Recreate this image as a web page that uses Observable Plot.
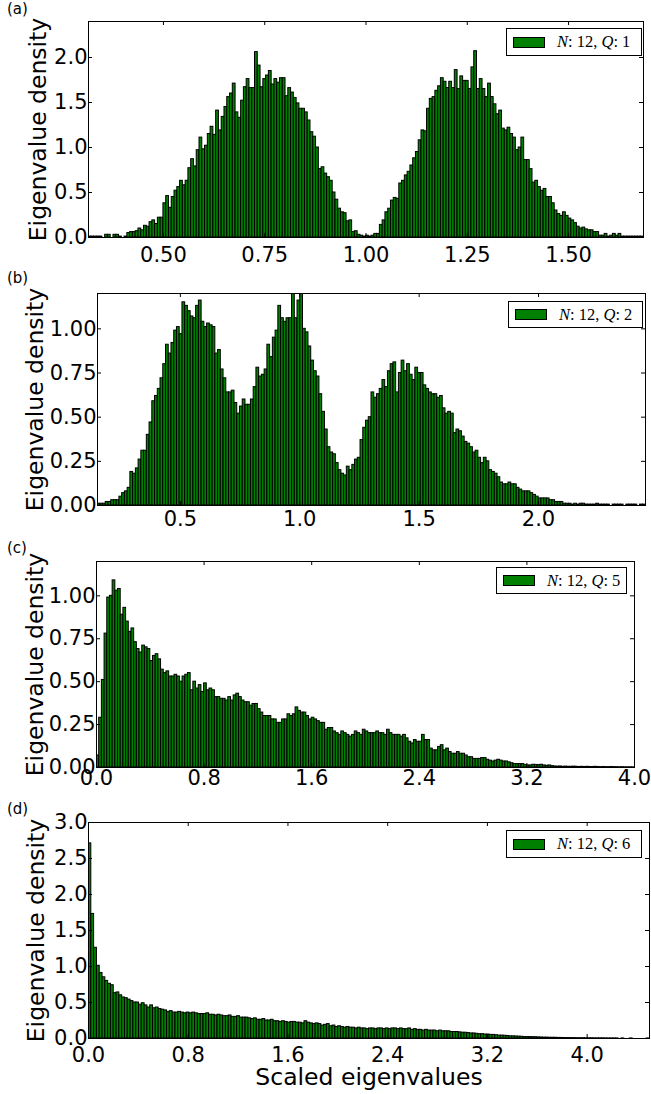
<!DOCTYPE html>
<html>
<head>
<meta charset="utf-8">
<script src="https://cdn.jsdelivr.net/npm/d3@7"></script>
<script src="https://cdn.jsdelivr.net/npm/@observablehq/plot@0.6"></script>
<style>
html,body{margin:0;padding:0;background:#fff;}
#fig{position:relative;width:651px;height:1094px;font-family:"DejaVu Sans",sans-serif;color:#000;}
.panel{position:absolute;left:0;width:651px;}
.panel svg{display:block;}
.plabel{position:absolute;left:7px;font-size:15px;line-height:15px;font-family:"DejaVu Sans",sans-serif;}
.legend{position:absolute;background:#fff;border:1px solid #000;box-sizing:border-box;font-family:"Liberation Serif","Times New Roman",serif;font-size:16.5px;display:flex;align-items:center;white-space:nowrap;}
.legend .patch{display:inline-block;background:#008000;border:1px solid #000;box-sizing:border-box;width:32px;height:11px;margin-left:6px;margin-right:12px;}
</style>
</head>
<body>
<div id="fig"></div>
<script>
// ---------- DATA ----------
const xLabel = "Scaled eigenvalues";
const yLabel = "Eigenvalue density";
const nValue = 12;
const qValues = [1, 2, 5, 6];

// (a) N=12, Q=1 : 200 bins
const startA = 0.315, widthA = 0.00685;
const densityA = [
 0.01,0.01,0.01,0.01,0.01,0.00,0.03,0.03,0.00,0.03,
 0.03,0.01,0.00,0.01,0.05,0.06,0.06,0.07,0.10,0.08,
 0.13,0.12,0.17,0.19,0.15,0.22,0.22,0.38,0.46,0.33,
 0.45,0.52,0.56,0.63,0.58,0.63,0.77,0.87,0.79,0.97,
 1.11,0.98,1.02,1.15,1.23,1.14,1.41,1.19,1.34,1.45,
 1.56,1.60,1.71,1.39,1.33,1.52,1.67,1.76,1.66,1.66,
 2.06,1.91,1.67,1.76,1.80,1.85,1.70,1.76,1.72,1.77,
 1.77,1.57,1.66,1.61,1.55,1.49,1.43,1.43,1.39,1.30,
 1.17,1.12,1.00,0.76,0.78,0.71,0.67,0.63,0.50,0.42,
 0.32,0.28,0.27,0.18,0.19,0.06,0.07,0.03,0.02,0.01,
 0.02,0.01,0.02,0.04,0.04,0.14,0.19,0.28,0.32,0.41,
 0.44,0.43,0.60,0.63,0.69,0.73,0.80,0.88,0.95,1.08,
 1.19,1.18,1.43,1.54,1.56,1.63,1.68,1.77,1.73,1.66,
 1.73,1.66,1.86,1.65,1.79,1.74,1.74,1.65,1.89,2.07,
 1.65,1.76,1.65,1.56,1.71,1.56,1.48,1.37,1.41,1.21,
 1.19,1.22,1.15,1.11,0.97,1.00,1.11,0.86,0.86,0.76,
 0.61,0.63,0.56,0.52,0.54,0.45,0.45,0.38,0.30,0.26,
 0.24,0.28,0.24,0.21,0.19,0.16,0.12,0.10,0.11,0.09,
 0.08,0.08,0.06,0.06,0.02,0.02,0.04,0.01,0.02,0.04,
 0.02,0.04,0.01,0.01,0.01,0.01,0.01,0.01,0.01,0.01
];

// (b) N=12, Q=2
const startB = 0.153, widthB = 0.011475;
const densityB = [
 0.01,0.01,0.01,0.02,0.02,0.03,0.03,0.03,0.05,0.07,
 0.08,0.10,0.19,0.18,0.21,0.26,0.31,0.31,0.40,0.47,
 0.59,0.62,0.66,0.72,0.80,0.91,0.86,0.92,0.99,1.01,
 0.97,1.15,1.13,1.10,1.07,1.06,1.13,1.16,1.04,1.01,
 1.03,1.02,1.01,0.86,0.88,0.77,0.72,0.64,0.64,0.65,
 0.58,0.52,0.56,0.60,0.57,0.57,0.60,0.67,0.78,0.73,
 0.74,0.77,0.91,0.84,0.95,0.99,1.13,1.06,1.04,1.06,
 1.06,1.21,1.06,1.16,1.21,1.00,0.98,0.90,0.82,0.76,
 0.73,0.63,0.53,0.43,0.33,0.30,0.29,0.24,0.20,0.18,
 0.17,0.22,0.20,0.23,0.26,0.27,0.37,0.44,0.48,0.50,
 0.64,0.61,0.63,0.66,0.71,0.67,0.76,0.80,0.81,0.64,
 0.75,0.82,0.76,0.80,0.74,0.71,0.78,0.75,0.75,0.68,
 0.66,0.64,0.63,0.63,0.61,0.62,0.55,0.52,0.53,0.52,
 0.41,0.43,0.42,0.39,0.36,0.35,0.33,0.30,0.31,0.27,
 0.24,0.27,0.25,0.20,0.19,0.18,0.16,0.13,0.12,0.12,
 0.13,0.12,0.12,0.10,0.09,0.08,0.08,0.08,0.07,0.06,
 0.05,0.04,0.04,0.04,0.04,0.03,0.03,0.02,0.02,0.02,
 0.01,0.01,0.01,0.005,0.01,0.005,0.01,0.01,0.005,0.005,
 0.005,0.005,0.01,0.005,0.005,0.005,0.005,0.0,0.005,0.005,
 0.005,0.005,0.0,0.005,0.005,0.005,0.005,0.0,0.005,0.005
];

// (c) N=12, Q=5
const startC = 0, widthC = 0.02;
const densityC = [
 0.07,0.29,0.51,0.78,0.99,1.00,1.09,1.03,1.04,0.89,
 0.93,0.85,0.79,0.81,0.73,0.69,0.67,0.71,0.70,0.69,
 0.62,0.65,0.66,0.63,0.57,0.55,0.56,0.53,0.53,0.54,
 0.53,0.50,0.53,0.54,0.55,0.45,0.50,0.46,0.48,0.44,
 0.49,0.45,0.46,0.45,0.41,0.41,0.40,0.40,0.39,0.41,
 0.39,0.42,0.43,0.41,0.39,0.38,0.38,0.36,0.37,0.37,
 0.34,0.32,0.30,0.30,0.30,0.28,0.28,0.26,0.26,0.28,
 0.28,0.31,0.30,0.31,0.35,0.33,0.32,0.32,0.30,0.28,
 0.29,0.28,0.27,0.26,0.26,0.22,0.23,0.23,0.21,0.20,
 0.19,0.21,0.20,0.19,0.18,0.19,0.21,0.20,0.19,0.22,
 0.21,0.20,0.20,0.20,0.21,0.20,0.20,0.19,0.22,0.20,
 0.19,0.19,0.19,0.18,0.19,0.17,0.15,0.14,0.16,0.15,
 0.15,0.19,0.16,0.16,0.11,0.10,0.10,0.12,0.13,0.10,
 0.11,0.09,0.08,0.08,0.09,0.08,0.08,0.07,0.06,0.06,
 0.05,0.05,0.05,0.055,0.055,0.045,0.04,0.035,0.04,0.045,
 0.04,0.035,0.035,0.03,0.025,0.02,0.02,0.02,0.02,0.015,
 0.012,0.012,0.016,0.015,0.014,0.016,0.012,0.010,0.012,0.008,
 0.006,0.005,0.006,0.004,0.005,0.004,0.004,0.005,0.004,0.003,
 0.004,0.003,0.004,0.003,0.003,0.004,0.003,0.002,0.003,0.002,
 0.002,0.003,0.002,0.002,0.001,0.002,0.001,0.001,0.001,0.001
];

// (d) N=12, Q=6
const startD = 0, widthD = 0.0225;
const densityD = [
 2.71,1.73,1.26,1.01,0.91,0.85,0.80,0.76,0.74,0.63,
 0.64,0.60,0.57,0.56,0.54,0.52,0.50,0.50,0.47,0.49,
 0.46,0.43,0.46,0.42,0.43,0.41,0.40,0.39,0.37,0.38,
 0.36,0.36,0.37,0.36,0.35,0.36,0.35,0.36,0.35,0.34,
 0.34,0.34,0.35,0.33,0.33,0.32,0.33,0.32,0.31,0.31,
 0.32,0.30,0.30,0.31,0.29,0.29,0.29,0.28,0.27,0.28,
 0.26,0.26,0.27,0.25,0.25,0.26,0.24,0.24,0.23,0.24,
 0.23,0.22,0.23,0.23,0.22,0.22,0.21,0.24,0.22,0.21,
 0.20,0.21,0.20,0.18,0.19,0.20,0.17,0.18,0.16,0.17,
 0.16,0.15,0.16,0.15,0.15,0.14,0.15,0.14,0.14,0.13,
 0.14,0.14,0.13,0.14,0.14,0.13,0.14,0.13,0.14,0.14,
 0.13,0.14,0.13,0.13,0.14,0.12,0.13,0.12,0.12,0.11,
 0.12,0.11,0.11,0.11,0.10,0.11,0.10,0.10,0.10,0.09,
 0.09,0.09,0.085,0.08,0.08,0.075,0.07,0.07,0.065,0.06,
 0.06,0.055,0.055,0.05,0.05,0.045,0.04,0.04,0.038,0.035,
 0.03,0.03,0.028,0.026,0.024,0.02,0.02,0.02,0.018,0.018,
 0.015,0.014,0.012,0.012,0.01,0.01,0.01,0.008,0.008,0.007,
 0.006,0.006,0.005,0.005,0.004,0.004,0.004,0.003,0.003,0.003,
 0.002,0.002,0.002,0.002,0.001,0.001,0.001,0.001,0.001,0,
 0.001,0,0,0.001,0,0,0,0,0,0.001
];

// axis domains and ticks
const xDomainA = [0.315, 1.685], yDomainA = [0, 2.4];
const xTicksA = [0.5, 0.75, 1.0, 1.25, 1.5], yTicksA = [0, 0.5, 1.0, 1.5, 2.0];
const xDomainB = [0.153, 2.448], yDomainB = [0, 1.2];
const xTicksB = [0.5, 1.0, 1.5, 2.0], yTicksB = [0, 0.25, 0.5, 0.75, 1.0];
const xDomainC = [0, 4.0], yDomainC = [0, 1.2];
const xTicksC = [0, 0.8, 1.6, 2.4, 3.2, 4.0], yTicksC = [0, 0.25, 0.5, 0.75, 1.0];
const xDomainD = [0, 4.5], yDomainD = [0, 3.0];
const xTicksD = [0, 0.8, 1.6, 2.4, 3.2, 4.0], yTicksD = [0, 0.5, 1.0, 1.5, 2.0, 2.5, 3.0];

// ---------- LAYOUT ----------
const panels = [
  {tag:"(a)", q:qValues[0], start:startA, width:widthA, values:densityA, xDomain:xDomainA, yDomain:yDomainA, xTicks:xTicksA, yTicks:yTicksA, xFmt:".2f", yFmt:".1f",
   top:0, height:270, mt:21, mb:33, ml:88, mr:8, xPad:10, yLabelX:29, tagTop:2, legend:[506,28,136,28]},
  {tag:"(b)", q:qValues[1], start:startB, width:widthB, values:densityB, xDomain:xDomainB, yDomain:yDomainB, xTicks:xTicksB, yTicks:yTicksB, xFmt:".1f", yFmt:".2f",
   top:270, height:270, mt:23, mb:35, ml:97, mr:6, xPad:6, yLabelX:26, tagTop:271, legend:[508,301,135,27]},
  {tag:"(c)", q:qValues[2], start:startC, width:widthC, values:densityC, xDomain:xDomainC, yDomain:yDomainC, xTicks:xTicksC, yTicks:yTicksC, xFmt:".1f", yFmt:".2f",
   top:540, height:260, mt:21, mb:33, ml:96, mr:17, xPad:3, yLabelX:26, tagTop:541, legend:[496,567,131,27]},
  {tag:"(d)", q:qValues[3], start:startD, width:widthD, values:densityD, xDomain:xDomainD, yDomain:yDomainD, xTicks:xTicksD, yTicks:yTicksD, xFmt:".1f", yFmt:".1f",
   top:800, height:294, mt:22, mb:56, ml:88, mr:2, xPad:9, yLabelX:27, tagTop:802, legend:[506,830,136,28], xTitle:true}
];

const fig = document.getElementById("fig");
const TICK = 4;

panels.forEach(p => {
  const bins = p.values.map((v, i) => ({x1: p.start + i * p.width, x2: p.start + (i + 1) * p.width, y: v}));
  const innerW = 651 - p.ml - p.mr;
  const innerH = p.height - p.mt - p.mb;
  const marks = [
    Plot.rectY(bins, {x1: "x1", x2: "x2", y: "y", fill: "#008000", stroke: "#000", strokeWidth: 1, clip: true}),
    Plot.frame({stroke: "#000", strokeWidth: 1}),
    Plot.tickX(p.xTicks, {x: d => d, insetTop: innerH - TICK, stroke: "#000"}),
    Plot.tickX(p.xTicks, {x: d => d, insetBottom: innerH - TICK, stroke: "#000"}),
    Plot.tickY(p.yTicks, {y: d => d, insetRight: innerW - TICK, stroke: "#000"}),
    Plot.tickY(p.yTicks, {y: d => d, insetLeft: innerW - TICK, stroke: "#000"}),
    Plot.axisX(p.xTicks, {tickSize: 0, tickPadding: p.xPad, tickFormat: d3.format(p.xFmt), fontSize: 21, label: null}),
    Plot.axisY(p.yTicks, {tickSize: 0, tickPadding: 1, tickFormat: d3.format(p.yFmt), fontSize: 21, label: null}),
    Plot.text([yLabel], {frameAnchor: "left", rotate: -90, dx: p.yLabelX - p.ml, lineAnchor: "top", textAnchor: "middle", fontSize: 23.5})
  ];
  if (p.xTitle) {
    marks.push(Plot.text([xLabel], {frameAnchor: "bottom", dy: 38.6, lineAnchor: "middle", textAnchor: "middle", fontSize: 23.5}));
  }
  const chart = Plot.plot({
    width: 651, height: p.height,
    marginTop: p.mt, marginBottom: p.mb, marginLeft: p.ml, marginRight: p.mr,
    x: {domain: p.xDomain},
    y: {domain: p.yDomain},
    style: {fontFamily: "DejaVu Sans", background: "transparent", color: "#000", overflow: "visible"},
    marks
  });
  const wrap = document.createElement("div");
  wrap.className = "panel";
  wrap.style.top = p.top + "px";
  wrap.appendChild(chart);
  fig.appendChild(wrap);

  const tag = document.createElement("div");
  tag.className = "plabel";
  tag.style.top = p.tagTop + "px";
  tag.textContent = p.tag;
  fig.appendChild(tag);

  const [lx, ly, lw, lh] = p.legend;
  const lg = document.createElement("div");
  lg.className = "legend";
  lg.style.left = lx + "px"; lg.style.top = ly + "px";
  lg.style.width = lw + "px"; lg.style.height = lh + "px";
  lg.innerHTML = `<span class="patch"></span><span><i>N</i>:&nbsp;${nValue},&nbsp;<i>Q</i>:&nbsp;${p.q}</span>`;
  fig.appendChild(lg);
});
</script>
</body>
</html>
